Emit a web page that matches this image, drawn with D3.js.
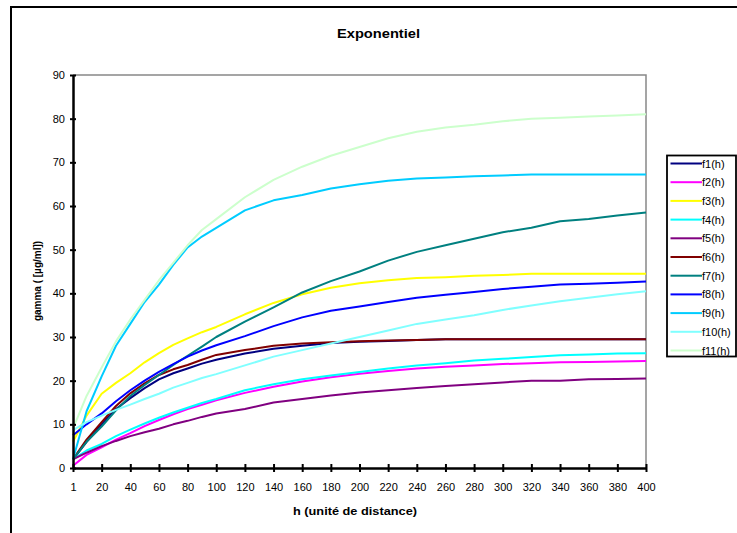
<!DOCTYPE html>
<html><head><meta charset="utf-8">
<script src="https://cdn.jsdelivr.net/npm/d3@7"></script>
<style>body{margin:0;background:#fff}svg{display:block;font-family:"Liberation Sans",Arial,sans-serif}</style>
</head><body><svg id="c" width="737" height="533"></svg>
<script>
const hValues = [1,10,20,30,40,50,60,70,80,90,100,120,140,160,180,200,220,240,260,280,300,320,340,360,380,400];
const xTickLabels = [1,20,40,60,80,100,120,140,160,180,200,220,240,260,280,300,320,340,360,380,400];
const yTicks = [0,10,20,30,40,50,60,70,80,90];
const seriesNames = ["f1(h)","f2(h)","f3(h)","f4(h)","f5(h)","f6(h)","f7(h)","f8(h)","f9(h)","f10(h)","f11(h)"];
const seriesColors = ["#000080","#ff00ff","#ffff00","#00ffff","#800080","#800000","#008080","#0000ff","#00ccff","#80ffff","#ccffcc"];
const f1 = [2,6,10,13.5,16,18.3,20.3,21.7,22.8,23.9,24.8,26.2,27.3,28,28.6,28.9,29.1,29.3,29.5,29.5,29.5,29.5,29.5,29.5,29.5,29.5];
const f2 = [0.5,3,4.7,6.5,8,9.6,11,12.3,13.5,14.5,15.5,17.2,18.6,19.8,20.8,21.6,22.2,22.8,23.2,23.5,23.8,24,24.2,24.3,24.4,24.5];
const f3 = [6,12,17,19.5,21.7,24.2,26.3,28.2,29.7,31.1,32.3,35.2,37.8,39.8,41.3,42.3,43,43.5,43.7,44,44.2,44.5,44.5,44.5,44.5,44.5];
const f4 = [2,4,5.5,7.3,8.8,10.2,11.5,12.7,13.8,14.9,15.8,17.8,19.2,20.3,21.2,22,22.8,23.5,24,24.6,25,25.4,25.8,26,26.2,26.3];
const f5 = [2,3.5,5,6.2,7.3,8.2,9,10,10.8,11.7,12.5,13.5,15,15.8,16.6,17.3,17.8,18.3,18.8,19.2,19.6,20,20,20.3,20.4,20.5];
const f6 = [2,6.5,10.5,14.2,17.1,19.4,21.3,22.6,23.6,24.8,25.9,27,28,28.5,28.8,29,29.2,29.3,29.5,29.5,29.5,29.5,29.5,29.5,29.5,29.5];
const f7 = [2,6,9.5,13.2,16.5,19,21.3,23.6,25.7,27.8,30,33.5,36.8,40.2,42.8,45,47.5,49.5,51,52.5,54,55,56.5,57,57.8,58.5];
const f8 = [7.5,10,12.5,15.3,17.8,20,22,23.8,25.5,26.9,28.1,30.2,32.5,34.5,36,37,38,39,39.7,40.3,41,41.5,42,42.2,42.4,42.7];
const f9 = [2,13,21,28,33,38,42,46.5,50.5,53,55,59,61.3,62.5,64,65,65.8,66.3,66.5,66.8,67,67.2,67.2,67.2,67.2,67.2];
const f10 = [8.7,10.5,12,13.3,14.5,15.8,17,18.4,19.5,20.6,21.5,23.5,25.5,27,28.5,30,31.5,33,34,35,36.2,37.2,38.2,39,39.8,40.5];
const f11 = [9,16.5,23,29,34,38.5,43,47,51,54.5,57,62,66,69,71.5,73.5,75.5,77,78,78.6,79.4,80,80.2,80.5,80.7,81];
const seriesValues = [f1,f2,f3,f4,f5,f6,f7,f8,f9,f10,f11];

const svg = d3.select("#c");
const L = 73, R = 646, T = 75, B = 468;
// category-style axis: ticks evenly spaced
const x = d3.scaleLinear()
  .domain(xTickLabels)
  .range(xTickLabels.map((d,i)=> L + i*(R-L)/(xTickLabels.length-1)));
const y = d3.scaleLinear().domain([0,90]).range([B,T]);

// outer chart border
svg.append("rect").attr("x",11).attr("y",7).attr("width",760).attr("height",560)
  .attr("fill","none").attr("stroke","#000").attr("stroke-width",2);

// plot border (top/right grey)
svg.append("path").attr("d",`M${L},${T}H${R}V${B}`).attr("fill","none").attr("stroke","#888").attr("stroke-width",1.5);

// lines
const line = d3.line().x((d,i)=>x(hValues[i])).y(d=>y(d));
seriesValues.forEach((vals,k)=>{
  svg.append("path").datum(vals).attr("d",line).attr("fill","none")
    .attr("stroke",seriesColors[k]).attr("stroke-width",2).attr("stroke-linejoin","round");
});

// y axis
const ya = svg.append("g").attr("transform",`translate(${L},0)`)
  .call(d3.axisLeft(y).tickValues(yTicks).tickSize(0).tickPadding(8));
ya.select(".domain").attr("stroke","#000").attr("stroke-width",2.5);
ya.selectAll(".tick line").remove();
ya.selectAll(".tick").append("line").attr("x1",-3).attr("x2",3).attr("stroke","#000").attr("stroke-width",2);
ya.selectAll("text").attr("font-size",11).attr("fill","#000").attr("font-family","Liberation Sans, Arial");

// x axis
const xa = svg.append("g").attr("transform",`translate(0,${B})`)
  .call(d3.axisBottom(x).tickValues(xTickLabels).tickFormat(d3.format("d")).tickSize(0).tickPadding(15));
xa.select(".domain").attr("stroke","#000").attr("stroke-width",2.5);
xa.selectAll(".tick line").remove();
xa.selectAll(".tick").append("line").attr("y1",-4).attr("y2",4).attr("stroke","#000").attr("stroke-width",2);
xa.selectAll("text").attr("font-size",11).attr("fill","#000").attr("font-family","Liberation Sans, Arial");

// titles
svg.append("text").attr("x",378.5).attr("y",38).attr("text-anchor","middle")
  .attr("font-weight","bold").attr("font-size",12).attr("textLength",83).attr("lengthAdjust","spacingAndGlyphs")
  .text("Exponentiel");
svg.append("text").attr("x",355).attr("y",515).attr("text-anchor","middle")
  .attr("font-weight","bold").attr("font-size",10).attr("textLength",124).attr("lengthAdjust","spacingAndGlyphs")
  .text("h  (unité de distance)");
svg.append("text").attr("transform","translate(41,281) rotate(-90)").attr("text-anchor","middle")
  .attr("font-weight","bold").attr("font-size",10).text("gamma ( [µg/ml])");

// legend
const lg = svg.append("g");
lg.append("rect").attr("x",667).attr("y",155.5).attr("width",69).attr("height",201)
  .attr("fill","#fff").attr("stroke","#000").attr("stroke-width",1.8);
const ly = d3.scalePoint().domain(seriesNames).range([163.5,350.5]);
seriesNames.forEach((n,k)=>{
  lg.append("line").attr("x1",670.5).attr("x2",702).attr("y1",ly(n)).attr("y2",ly(n))
    .attr("stroke",seriesColors[k]).attr("stroke-width",2);
  lg.append("text").attr("x",702).attr("y",ly(n)+4).attr("font-size",11).text(n);
});
</script></body></html>
